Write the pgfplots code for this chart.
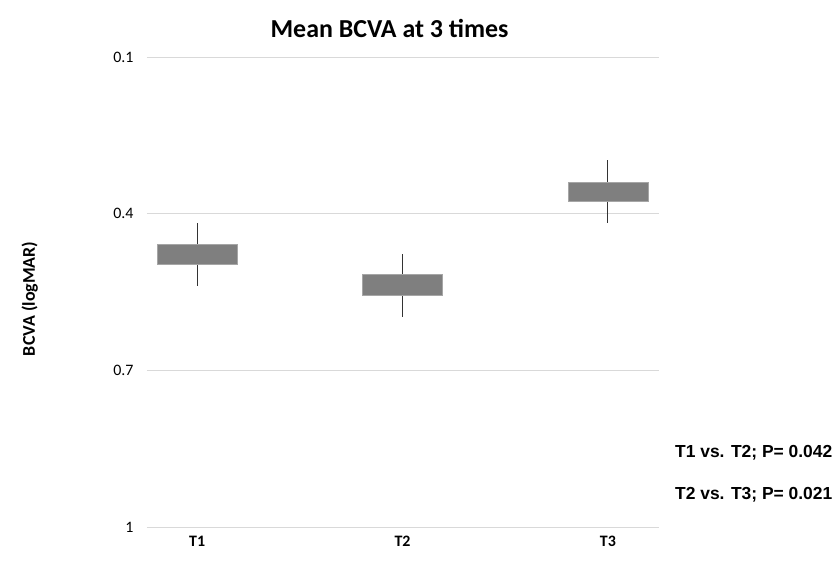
\documentclass[border=0pt]{standalone}
\usepackage{pgfplots}
\pgfplotsset{compat=1.18}
\usepgfplotslibrary{statistics}
\usepackage{fontspec}
\setmainfont{Carlito}
\newfontfamily\arialfont{Liberation Sans}
\definecolor{boxgray}{HTML}{7F7F7F}
\definecolor{boxedge}{HTML}{A6A6A6}
\definecolor{gridgray}{HTML}{D9D9D9}
\begin{document}
\begin{tikzpicture}
\useasboundingbox (-147bp,-38bp) rectangle (692bp,527bp);
\begin{axis}[
  scale only axis,
  width=512bp, height=470bp,
  xmin=0.756, xmax=3.249,
  ymin=0.1, ymax=1, y dir=reverse,
  ytick={0.1,0.4,0.7,1},
  yticklabels={0.1,0.4,0.7,1},
  xtick={1,2,3},
  xticklabels={T1,T2,T3},
  xticklabel style={font=\bfseries\fontsize{16}{18}\selectfont, yshift=-6bp},
  yticklabel style={font=\fontsize{16}{18}\selectfont, xshift=-10bp},
  axis line style={draw=none},
  major tick length=0pt,
  ymajorgrids, grid style={gridgray, line width=0.8pt},
  clip=false,
  boxplot/draw direction=y,
  boxplot/whisker extend=0,
  boxplot/box extend=0.39,
  boxplot/every box/.style={fill=boxgray, draw=boxedge, line width=0.6pt},
  boxplot/every median/.style={draw=none},
  boxplot/every whisker/.style={draw=black!80, line width=0.8pt},
]
\addplot+[mark=none, boxplot prepared={draw position=1,
  lower whisker=0.538, lower quartile=0.496, median=0.477,
  upper quartile=0.458, upper whisker=0.418}] coordinates {};
\addplot+[mark=none, boxplot prepared={draw position=2,
  lower whisker=0.597, lower quartile=0.557, median=0.537,
  upper quartile=0.517, upper whisker=0.477}] coordinates {};
\addplot+[mark=none, boxplot prepared={draw position=3,
  lower whisker=0.418, lower quartile=0.376, median=0.358,
  upper quartile=0.340, upper whisker=0.298}] coordinates {};
\node[font=\bfseries\fontsize{26}{30}\selectfont] at (axis cs:1.937,0.045) {Mean BCVA at 3 times};
\node[font=\bfseries\fontsize{18}{20}\selectfont, rotate=90] at (axis cs:0.185,0.563) {BCVA (logMAR)};
\node[anchor=east, font=\arialfont\bfseries\fontsize{17.5}{20}\selectfont] at (axis cs:4.11,0.858) {T1 vs. T2; P= 0.042};
\node[anchor=east, font=\arialfont\bfseries\fontsize{17.5}{20}\selectfont] at (axis cs:4.11,0.938) {T2 vs. T3; P= 0.021};
\end{axis}
\end{tikzpicture}
\end{document}
